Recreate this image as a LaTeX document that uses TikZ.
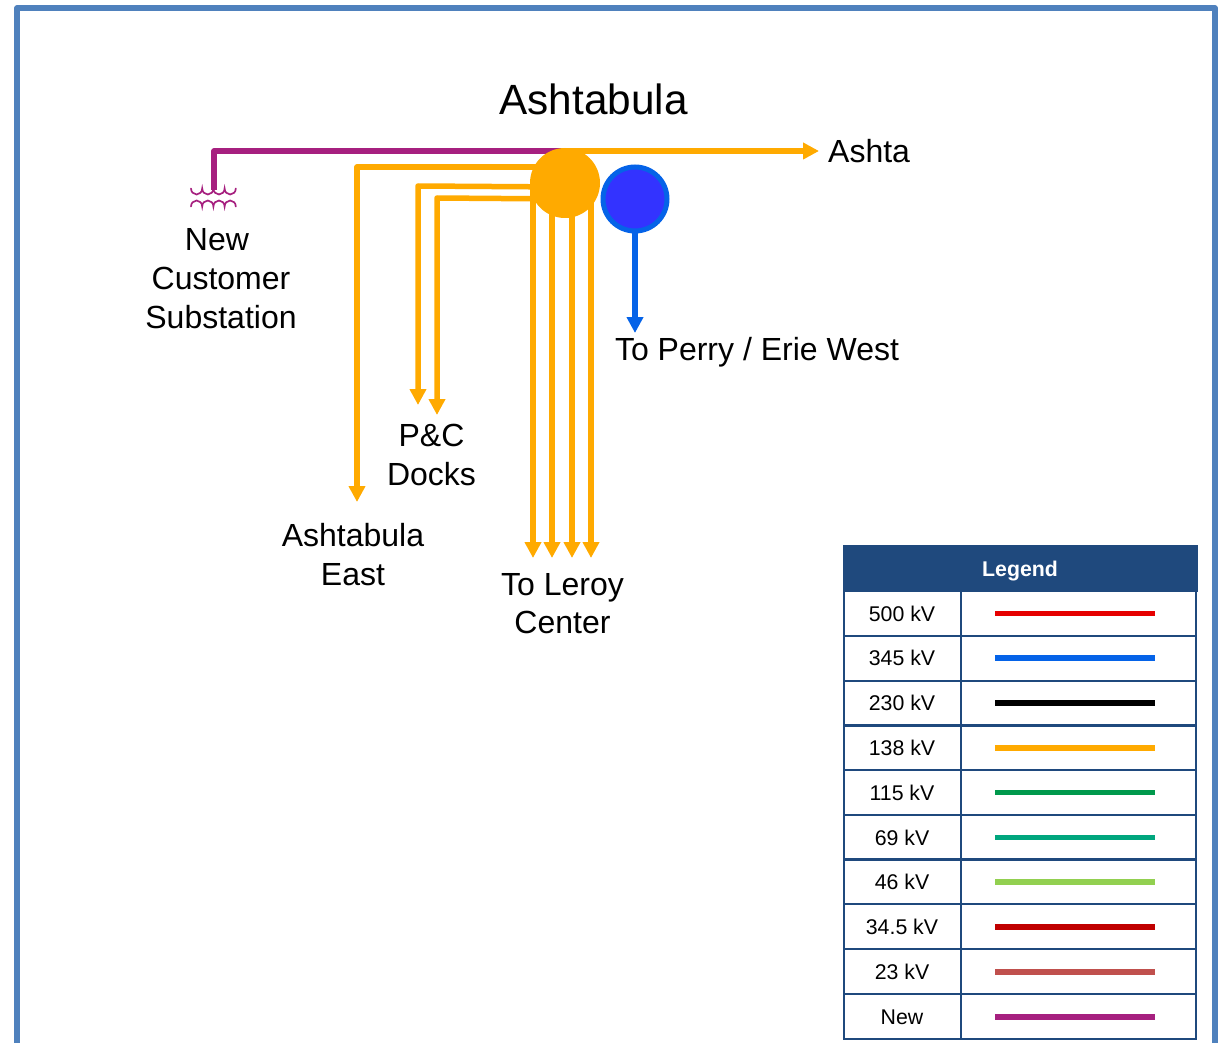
\documentclass[tikz,border=0pt]{standalone}
\usepackage{fontspec}
\setmainfont{Liberation Sans}
\usetikzlibrary{arrows.meta,backgrounds}
\definecolor{orangeline}{HTML}{FFAA00}
\definecolor{purpleline}{HTML}{A6207F}
\definecolor{blueline}{HTML}{0563E8}
\definecolor{bluefill}{HTML}{3333FF}
\definecolor{framecol}{HTML}{4F81BD}
\definecolor{headcol}{HTML}{1F497D}
\definecolor{cA}{HTML}{E60000}
\definecolor{cD}{HTML}{FFAA00}
\definecolor{cE}{HTML}{00994C}
\definecolor{cF}{HTML}{00A67E}
\definecolor{cG}{HTML}{92D050}
\definecolor{cH}{HTML}{C00000}
\definecolor{cI}{HTML}{C0504D}
\tikzset{
  x=1pt,y=-1pt,
  lbl/.style={inner sep=0pt,align=center,font=\fontsize{32}{38.7}\selectfont},
  cell/.style={inner sep=0pt,font=\fontsize{21.3}{25}\selectfont},
  feeder/.style={draw=orangeline,line width=5.5pt,line join=round,-{Triangle[length=16pt,width=16pt]}},
  swatch/.style={line width=5.5pt},
  grid/.style={draw=headcol,line width=2.8pt},
}
\begin{document}
\begin{tikzpicture}
\useasboundingbox (0,0) rectangle (1221,1043);
\begin{scope}
\clip (0,0) rectangle (1221,1043);
\draw[framecol,line width=5.5pt,line join=round] (17,1060) -- (17,8) -- (1215,8) -- (1215,1060);
\end{scope}
% stations
\node[circle,fill=orangeline,minimum size=70pt,inner sep=0pt] (orange) at (565,183) {};
\node[circle,fill=bluefill,draw=blueline,line width=5pt,minimum size=64pt,inner sep=0pt] (blue) at (635,199) {};
% free ends
\coordinate (tee) at (214,190);
\coordinate (ashtaEnd) at (819,151);
\coordinate (eastEnd) at (357,502);
\coordinate (pcA) at (418,405);
\coordinate (pcB) at (437,415);
\coordinate (lrA) at (533,558);
\coordinate (lrB) at (552,558);
\coordinate (lrC) at (572,558);
\coordinate (lrD) at (591,558);
\coordinate (perryEnd) at (635,333);
% connectors
\begin{scope}[on background layer]
\draw[purpleline,line width=5.5pt,line join=round] (tee) -- (214,151) -- (565,151);
\draw[feeder] (565,151) -- (ashtaEnd);
\draw[feeder] (orange.center |- 0,167) -- (357,167) -- (eastEnd);
\draw[feeder] (orange.center |- 0,187) -- (418,186) -- (pcA);
\draw[feeder] (orange.center |- 0,199) -- (437,198) -- (pcB);
\draw[feeder] (lrA |- orange.center) -- (lrA);
\draw[feeder] (lrB |- orange.center) -- (lrB);
\draw[feeder] (lrC |- orange.center) -- (lrC);
\draw[feeder] (lrD |- orange.center) -- (lrD);
\draw[draw=blueline,line width=5.5pt,-{Triangle[length=16pt,width=16pt]}] (blue.south) -- (perryEnd);
\end{scope}
% transformer
\draw[purpleline,line width=1.7pt,line cap=round]
  (191,188.5) arc[start angle=180,end angle=0,x radius=5.6,y radius=6]
  arc[start angle=180,end angle=0,x radius=5.6,y radius=6]
  arc[start angle=180,end angle=0,x radius=5.6,y radius=6]
  arc[start angle=180,end angle=0,x radius=5.6,y radius=6];
\draw[purpleline,line width=1.7pt,line cap=round]
  (191,206.5) arc[start angle=180,end angle=360,x radius=5.6,y radius=6]
  arc[start angle=180,end angle=360,x radius=5.6,y radius=6]
  arc[start angle=180,end angle=360,x radius=5.6,y radius=6]
  arc[start angle=180,end angle=360,x radius=5.6,y radius=6];
% labels
\node[lbl,font=\fontsize{42.3}{50}\selectfont] (title) at (593.5,99) {Ashtabula};
\node[lbl,anchor=west] (ashta) at (828,151) {Ashta};
\node[lbl] (cust) at (221,278.5) {New\hspace*{8pt}\\Customer\\Substation};
\node[lbl] (pc) at (431.5,455) {P\&C\\Docks};
\node[lbl] (east) at (353,554.5) {Ashtabula\\East};
\node[lbl] (leroy) at (562.5,603.5) {To Leroy\\Center};
\node[lbl] (perry) at (757,352.5) {To Perry / Erie West};
% legend
\fill[headcol] (842.5,545) rectangle (1197.5,591.5);
\node[cell,text=white,font=\fontsize{21.3}{25}\selectfont\bfseries] (legend) at (1020,571) {Legend};
\draw[grid] (844,591) -- (844,1039) -- (1196,1039) -- (1196,591);
\draw[grid] (961,591) -- (961,1039);
\foreach \yy/\txt/\col [count=\i] in {
  613.5/500 kV/cA, 658/345 kV/blueline, 703/230 kV/black, 748/138 kV/cD,
  792.5/115 kV/cE, 837.5/69 kV/cF, 882/46 kV/cG, 927/34.5 kV/cH,
  972/23 kV/cI, 1017/New/purpleline}{
  \node[cell] (r\i) at (902,\yy) {\txt};
  \coordinate (sa\i) at (995,\yy);
  \coordinate (sb\i) at (1155,\yy);
  \draw[swatch,draw=\col] (sa\i) -- (sb\i);
}
\foreach \yy in {636,681,725.5,770,815,859.5,904,949,994}{
  \draw[grid] (844,\yy) -- (1196,\yy);
}
\end{tikzpicture}
\end{document}
